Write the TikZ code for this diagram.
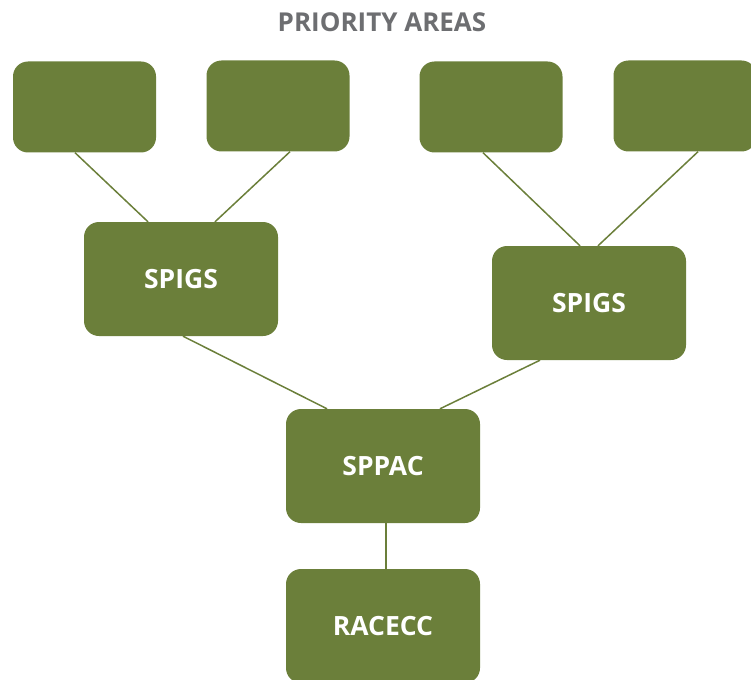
\documentclass[tikz,border=0pt]{standalone}
\usepackage{fontspec}
\setmainfont{Open Sans}
\usepackage{tikz}
\usetikzlibrary{positioning,calc}

\definecolor{olive}{HTML}{6B7F3A}
\definecolor{titlegray}{HTML}{6D6E71}

\begin{document}
\begin{tikzpicture}[x=1pt,y=-1pt,
	box/.style={fill=olive, rounded corners=15pt, minimum width=194pt, minimum height=114pt, inner sep=0pt, text=white, font=\fontsize{26.5}{30}\selectfont\bfseries},
	area/.style={box, minimum width=143pt, minimum height=91pt},
	link/.style={draw=olive, line width=1.5pt}]
				\useasboundingbox (0,0) rectangle (751,679);
				\node[font=\fontsize{26}{30}\selectfont\bfseries, text=titlegray] (title) at (382, 22) {PRIORITY AREAS};
				\node[area] (p1) at (84.5, 107) {};
				\node[area] (p2) at (278, 106) {};
				\node[area] (p3) at (491, 107) {};
				\node[area] (p4) at (685, 106) {};
				\node[box] (s1) at (181, 279) {SPIGS};
				\node[box] (s2) at (589, 303) {SPIGS};
				\node[box] (sp) at (383, 466) {SPPAC};
				\node[box] (rc) at (383, 626) {RACECC};
				\draw[link] ([xshift=-9.5pt]p1.south) -- ([xshift=-33pt]s1.north);
				\draw[link] ([xshift=12pt]p2.south) -- ([xshift=34pt]s1.north);
				\draw[link] ([xshift=-8pt]p3.south) -- ([xshift=-9pt]s2.north);
				\draw[link] ([xshift=13pt]p4.south) -- ([xshift=9pt]s2.north);
				\draw[link] ([xshift=2pt]s1.south) -- ([xshift=-56pt]sp.north);
				\draw[link] ([xshift=-49pt]s2.south) -- ([xshift=57pt]sp.north);
				\draw[link] ([xshift=3pt]sp.south) -- ([xshift=3pt]rc.north);
\end{tikzpicture}
\end{document}
